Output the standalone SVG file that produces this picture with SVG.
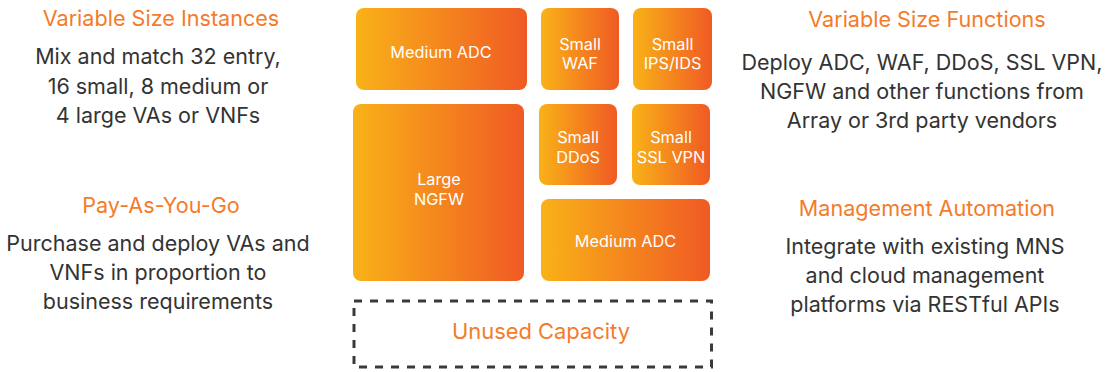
<svg xmlns="http://www.w3.org/2000/svg" width="1113" height="372" viewBox="0 0 1113 372">
<defs>
<linearGradient id="g" x1="0" y1="0" x2="1" y2="0">
<stop offset="0" stop-color="#F9B218"/>
<stop offset="1" stop-color="#F05A24"/>
</linearGradient>
<style>
.t{font-family:Inter,"Noto Sans",sans-serif;font-size:21.6px;fill:#F47B2A;text-anchor:middle}
.b{font-family:Inter,"Noto Sans",sans-serif;font-size:21.5px;fill:#333333;text-anchor:middle}
.n{fill:url(#g)}
.l{font-family:Inter,"Noto Sans",sans-serif;font-size:16.3px;fill:#ffffff;text-anchor:middle}
.u{font-family:Inter,"Noto Sans",sans-serif;font-size:21.9px;fill:#F47B2A;text-anchor:middle}
</style>
</defs>
<rect width="1113" height="372" fill="#ffffff"/>
<g id="left-text">
<text class="t" x="161" y="26">Variable Size Instances</text>
<text class="b" x="158" y="64">Mix and match 32 entry,</text>
<text class="b" x="158" y="94">16 small, 8 medium or</text>
<text class="b" x="158" y="123">4 large VAs or VNFs</text>
<text class="t" x="161" y="213">Pay-As-You-Go</text>
<text class="b" x="158" y="251">Purchase and deploy VAs and</text>
<text class="b" x="158" y="280">VNFs in proportion to</text>
<text class="b" x="158" y="309">business requirements</text>
</g>
<g id="right-text">
<text class="t" x="927" y="27">Variable Size Functions</text>
<text class="b" x="922" y="70">Deploy ADC, WAF, DDoS, SSL VPN,</text>
<text class="b" x="922" y="99">NGFW and other functions from</text>
<text class="b" x="922" y="128">Array or 3rd party vendors</text>
<text class="t" x="927" y="216">Management Automation</text>
<text class="b" x="925" y="254">Integrate with existing MNS</text>
<text class="b" x="925" y="283">and cloud management</text>
<text class="b" x="925" y="312">platforms via RESTful APIs</text>
</g>
<g id="medium-adc-1"><rect class="n" x="356" y="8" width="171" height="82" rx="8"/><text class="l" x="441" y="58">Medium ADC</text></g>
<g id="small-waf"><rect class="n" x="541" y="8" width="78" height="82" rx="8"/><text class="l" x="580" y="50">Small</text><text class="l" x="580" y="69">WAF</text></g>
<g id="small-ips"><rect class="n" x="633" y="8" width="79" height="82" rx="8"/><text class="l" x="672.5" y="50">Small</text><text class="l" x="672.5" y="69">IPS/IDS</text></g>
<g id="large-ngfw"><rect class="n" x="353" y="104" width="171" height="177" rx="8"/><text class="l" x="439" y="185">Large</text><text class="l" x="439" y="205">NGFW</text></g>
<g id="small-ddos"><rect class="n" x="539" y="104" width="78" height="81" rx="8"/><text class="l" x="578" y="143">Small</text><text class="l" x="578" y="163">DDoS</text></g>
<g id="small-ssl"><rect class="n" x="632" y="104" width="78" height="81" rx="8"/><text class="l" x="671" y="143">Small</text><text class="l" x="671" y="163">SSL VPN</text></g>
<g id="medium-adc-2"><rect class="n" x="541" y="199" width="169" height="82" rx="8"/><text class="l" x="625.5" y="247">Medium ADC</text></g>
<g id="unused"><rect x="354" y="301" width="357.5" height="66" fill="none" stroke="#3a3a3a" stroke-width="3" stroke-dasharray="8 8"/><text class="u" x="541" y="339">Unused Capacity</text></g>
<g id="connectors"/>
</svg>
